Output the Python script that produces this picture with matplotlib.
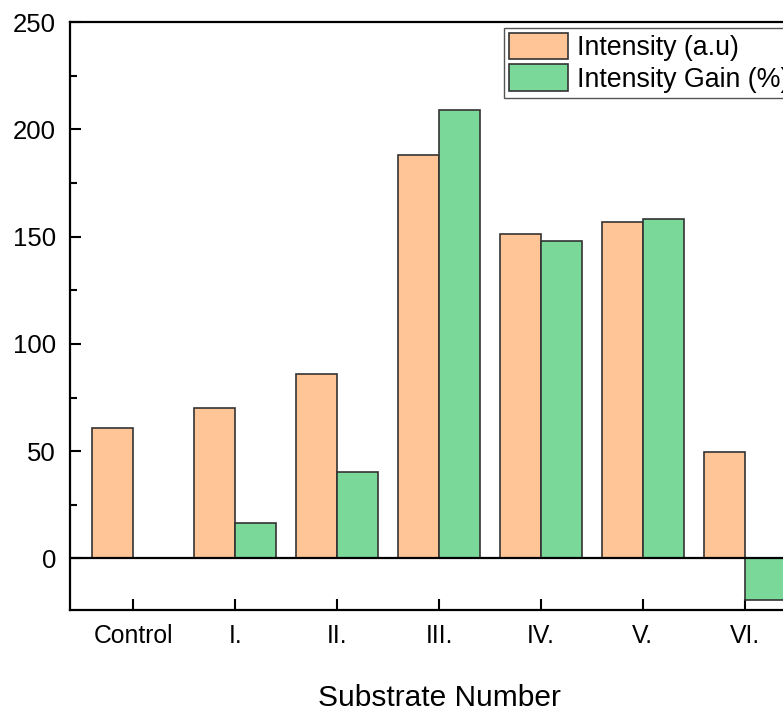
import matplotlib
matplotlib.use("Agg")
import matplotlib.pyplot as plt
import numpy as np

categories = ["Control", "I.", "II.", "III.", "IV.", "V.", "VI."]
intensity = [61, 70, 86, 188, 151, 157, 49.5]
gain = [0, 16.5, 40.5, 209, 148, 158, -19.5]

plt.rcParams['font.family'] = ['Liberation Sans', 'DejaVu Sans']

fig = plt.figure(figsize=(7.83, 7.13), dpi=100)
ax = fig.add_axes([70/783, 1-610/713, (808-70)/783, (610-22)/713])

x = np.arange(len(categories))
w = 0.4
ax.bar(x - w/2, intensity, w, color='#FFC596', edgecolor='#333333', linewidth=1.2, label='Intensity (a.u)', zorder=2)
ax.bar(x + w/2, gain, w, color='#7AD898', edgecolor='#333333', linewidth=1.2, label='Intensity Gain (%)', zorder=2)
ax.axhline(0, color='black', linewidth=1.6, zorder=3)

ax.set_xlim(-0.62, 6.62)
ax.set_ylim(-24, 250)
ax.set_xticks(x)
ax.set_xticklabels(categories, fontsize=17.8)
ax.set_yticks([0, 50, 100, 150, 200, 250])
ax.set_yticks([25, 75, 125, 175, 225], minor=True)
ax.tick_params(axis='y', which='major', direction='in', length=8, width=1.5, labelsize=18.5, pad=10)
ax.tick_params(axis='y', which='minor', direction='in', length=5, width=1.5)
ax.tick_params(axis='x', which='major', direction='in', length=8, width=1.5, pad=10)
for s in ax.spines.values():
    s.set_linewidth(1.6)
ax.set_xlabel('Substrate Number', fontsize=21.5, labelpad=26)

leg = ax.legend(loc='upper left', bbox_to_anchor=(504/783, 1-28/713), bbox_transform=fig.transFigure,
                borderaxespad=0, fontsize=19.3, fancybox=False, framealpha=1, edgecolor='#555555',
                handlelength=2.2, handleheight=1.15, labelspacing=0.12, borderpad=0.18, handletextpad=0.33)
leg.get_frame().set_linewidth(1.0)

fig.savefig('out.png', dpi=100)
